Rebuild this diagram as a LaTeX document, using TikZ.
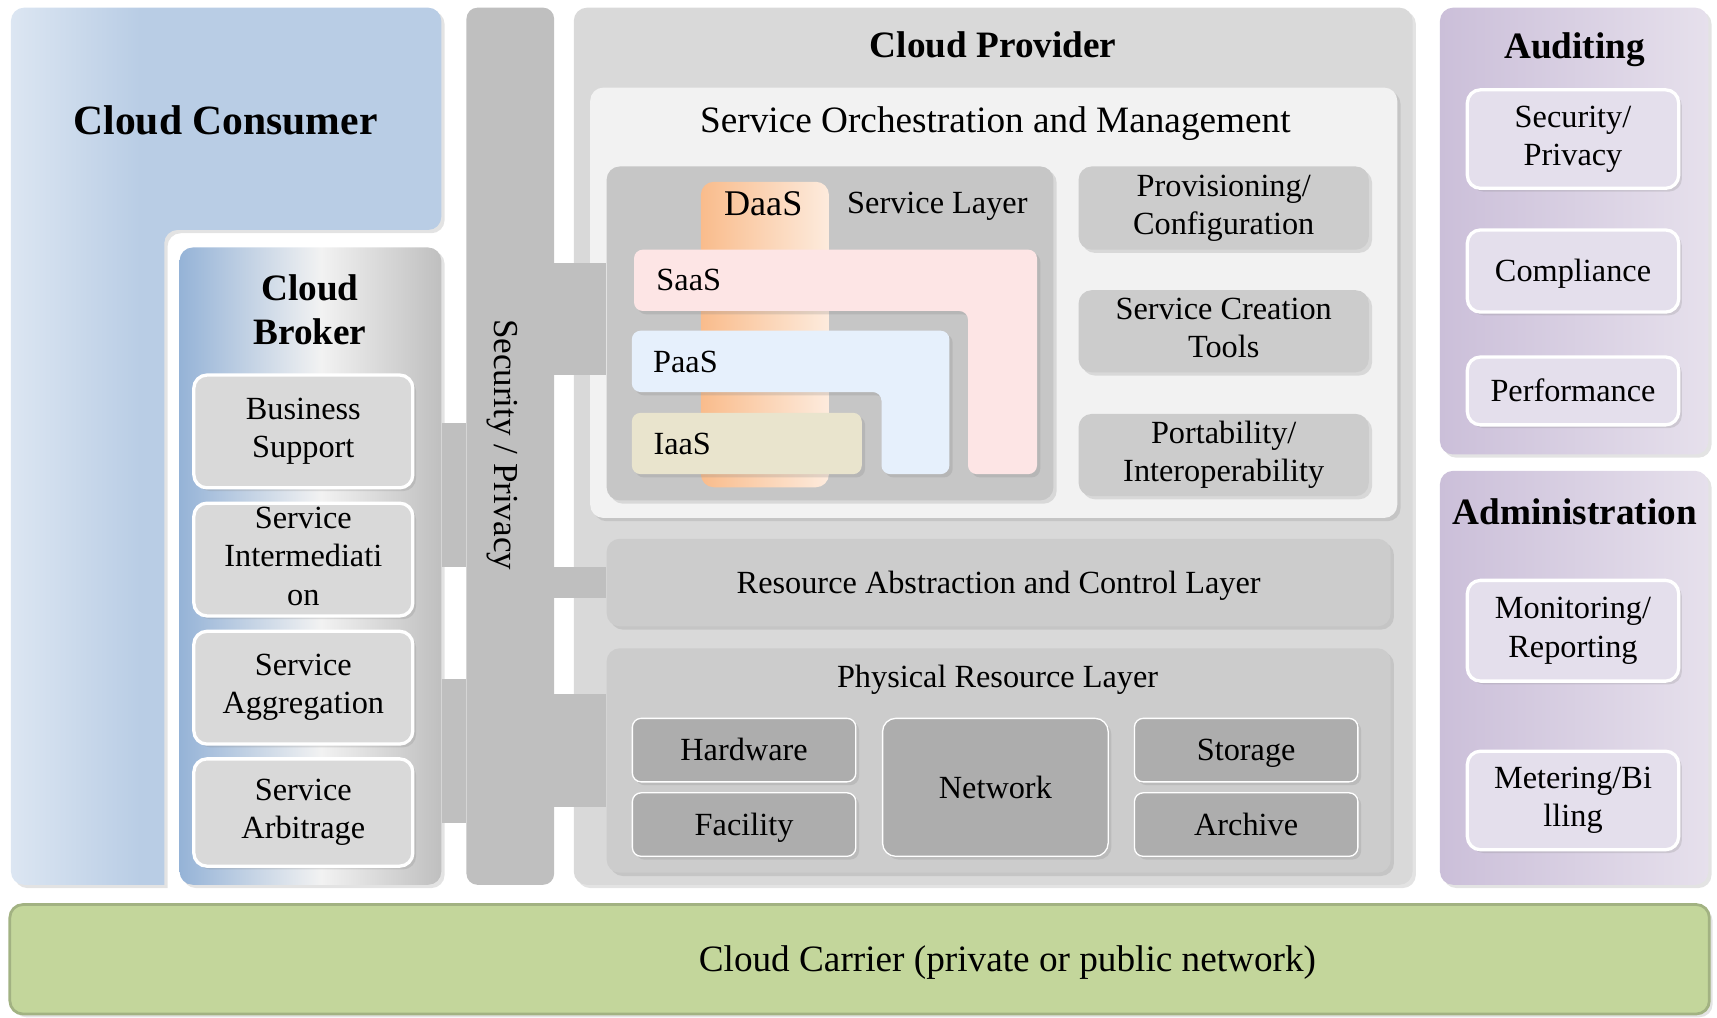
\documentclass[tikz,border=0pt]{standalone}
\usepackage{fontspec}
\setmainfont{Liberation Serif}
\usetikzlibrary{shadows}

\definecolor{consblue}{HTML}{B9CDE5}
\definecolor{conslight}{HTML}{DCE6F2}
\definecolor{brokblue}{HTML}{95B3D7}
\definecolor{broklight}{HTML}{F2F2F2}
\definecolor{brokgray}{HTML}{BFBFBF}
\definecolor{bargray}{HTML}{BFBFBF}
\definecolor{provgray}{HTML}{D9D9D9}
\definecolor{orchgray}{HTML}{F2F2F2}
\definecolor{laygray}{HTML}{CCCCCC}
\definecolor{physgray}{HTML}{ADADAD}
\definecolor{subgray}{HTML}{D9D9D9}
\definecolor{daasdark}{HTML}{F9BC8C}
\definecolor{daaslight}{HTML}{FDEBDD}
\definecolor{saaspink}{HTML}{FDE5E5}
\definecolor{paasblue}{HTML}{E6F0FC}
\definecolor{iaastan}{HTML}{E9E4CD}
\definecolor{purpdark}{HTML}{CBBFD9}
\definecolor{purplight}{HTML}{E6E0EC}
\definecolor{purpbox}{HTML}{E4DFEC}
\definecolor{carrgreen}{HTML}{C3D69B}
\definecolor{carredge}{HTML}{A2B282}

\pgfdeclarehorizontalshading{consshade}{100bp}{color(0bp)=(conslight); color(25bp)=(conslight); color(40bp)=(consblue); color(100bp)=(consblue)}
\pgfdeclarehorizontalshading{brokshade}{100bp}{color(0bp)=(brokblue); color(25bp)=(brokblue); color(52bp)=(broklight); color(75bp)=(brokgray); color(100bp)=(brokgray)}
\pgfdeclarehorizontalshading{daasshade}{100bp}{color(0bp)=(daasdark); color(25bp)=(daasdark); color(75bp)=(daaslight); color(100bp)=(daaslight)}
\pgfdeclarehorizontalshading{purpshade}{100bp}{color(0bp)=(purpdark); color(25bp)=(purpdark); color(75bp)=(purplight); color(100bp)=(purplight)}

\tikzset{
	shad/.style={drop shadow={opacity=0.22, shadow xshift=3pt, shadow yshift=-3pt}},
	txt/.style={font=\fontsize{29.5}{35}\selectfont, align=center, inner sep=0pt},
	boxtxt/.style={txt, execute at begin node={\rule{0pt}{26.3pt}}, execute at end node={\rule[-6.5pt]{0pt}{6.5pt}}},
	head/.style={font=\fontsize{34}{40}\selectfont\bfseries, align=center, inner sep=0pt},
	panel/.style={rectangle, rounded corners=12pt, inner sep=0pt, shad},
	brokbox/.style={boxtxt, rectangle, rounded corners=12pt, fill=subgray, draw=white, line width=3pt, shad, minimum width=200pt, minimum height=103pt},
	orchbox/.style={boxtxt, rectangle, rounded corners=12pt, fill=laygray, shad, minimum width=265pt, minimum height=75pt},
	physbox/.style={boxtxt, rectangle, rounded corners=8pt, fill=physgray, draw=white, line width=1.2pt, shad, minimum width=204pt, minimum height=58pt},
	audbox/.style={boxtxt, rectangle, rounded corners=12pt, fill=purpbox, draw=white, line width=3pt, shad, minimum width=193pt},
	link/.style={fill=bargray}
}

\begin{document}
\begin{tikzpicture}[x=1pt, y=-1pt]
	\useasboundingbox (0,0) rectangle (1568,929);
	
	% consumer and broker
	\shade[shad, shading=consshade, rounded corners=12pt] (10,808) -- (10,7) -- (403,7) -- (403,210) -- (150,210) [sharp corners] -- (150,808) [rounded corners=12pt] -- cycle;
	\node (constitle) at (206,110) [head, font=\fontsize{38}{44}\selectfont\bfseries] {Cloud Consumer};
	
	\node (brok) at (283.5,517) [panel, shade, shading=brokshade, minimum width=239pt, minimum height=582pt] {};
	\node (broktitle) at (283,283) [head] {Cloud\\Broker};
	\node (busi) at (277,394) [brokbox] {Business\\Support};
	\node (inter) at (277,511) [brokbox] {Service\\Intermediati\\on};
	\node (aggr) at (277,628) [brokbox] {Service\\Aggregation};
	\node (arbi) at (277,742) [brokbox, minimum height=98pt] {Service\\Arbitrage};
	
	\node (secbar) at (466,407.5) [rectangle, rounded corners=10pt, fill=bargray, minimum width=80pt, minimum height=801pt] {};
	\node (sectxt) at (459,406) [txt, rotate=-90, font=\fontsize{32}{38}\selectfont] {Security / Privacy};
	\fill[link] (brok.east |- 0,386) rectangle (secbar.west |- 0,518);
	\fill[link] (brok.east |- 0,620) rectangle (secbar.west |- 0,752);
	
	% provider
	\node (prov) at (907,407.5) [panel, fill=provgray, minimum width=766pt, minimum height=801pt] {};
	\node (provtitle) at (907,41) [head] {Cloud Provider};
	\node (orch) at (907.5,276.5) [panel, fill=orchgray, minimum width=737pt, minimum height=393pt] {};
	\node (orchtitle) at (909,113) [txt, font=\fontsize{34}{40}\selectfont] {Service Orchestration and Management};
	
	\node (svclay) at (758,304.5) [panel, fill=laygray!97!black, minimum width=408pt, minimum height=305pt] {};
	\node (svctitle) at (856,188) [txt] {Service Layer};
	\node (daas) at (698.5,305.5) [rectangle, rounded corners=12pt, shade, shading=daasshade, minimum width=117pt, minimum height=279pt] {};
	\node (daastxt) at (697,186) [txt, font=\fontsize{33}{38}\selectfont] {DaaS};
	\fill[saaspink, shad, rounded corners=8pt] (579,228) -- (947,228) -- (947,433) -- (884,433) -- (884,284) -- (579,284) -- cycle;
	\node (saastxt) at (629,256) [txt] {SaaS};
	\fill[paasblue, shad, rounded corners=8pt] (577,302) -- (867,302) -- (867,433) -- (805,433) -- (805,358) -- (577,358) -- cycle;
	\node (paastxt) at (626,331) [txt] {PaaS};
	\node (iaas) at (682,405) [rectangle, rounded corners=8pt, fill=iaastan, shad, minimum width=210pt, minimum height=56pt] {};
	\node (iaastxt) at (623,405) [txt] {IaaS};
	
	\node (provi) at (1117.5,190) [orchbox, minimum height=76pt] {Provisioning/\\Configuration};
	\node (crea) at (1117.5,302.5) [orchbox] {Service Creation\\Tools};
	\node (port) at (1117.5,415.5) [orchbox] {Portability/\\Interoperability};
	
	\node (resab) at (912,532) [panel, fill=laygray, minimum width=716pt, minimum height=80pt, boxtxt] {Resource Abstraction and Control Layer};
	\node (phys) at (912,694.5) [panel, fill=laygray, minimum width=716pt, minimum height=205pt] {};
	\node (phystitle) at (911,621) [txt] {Physical Resource Layer};
	\node (hw) at (679.5,685) [physbox] {Hardware};
	\node (fac) at (679.5,753) [physbox] {Facility};
	\node (net) at (909,719) [physbox, minimum width=206pt, minimum height=126pt, rounded corners=12pt] {Network};
	\node (sto) at (1138,685) [physbox] {Storage};
	\node (arc) at (1138,753) [physbox] {Archive};
	
	\fill[link] (secbar.east |- 0,240) rectangle (svclay.west |- 0,342);
	\fill[link] (secbar.east |- 0,518) rectangle (resab.west |- 0,546);
	\fill[link] (secbar.east |- 0,634) rectangle (phys.west |- 0,737);
	
	% auditing and administration
	\node (aud) at (1437.5,211) [panel, shade, shading=purpshade, minimum width=245pt, minimum height=408pt] {};
	\node (audtitle) at (1438,45) [head] {Auditing};
	\node (secp) at (1436.5,127) [audbox, minimum height=90pt] {Security/\\Privacy};
	\node (comp) at (1436.5,247.5) [audbox, minimum height=75pt] {Compliance};
	\node (perf) at (1436.5,357) [audbox, minimum height=62pt] {Performance};
	
	\node (adm) at (1437.5,619) [panel, shade, shading=purpshade, minimum width=245pt, minimum height=378pt] {};
	\node (admtitle) at (1438,467) [head] {Administration};
	\node (moni) at (1436.5,576) [audbox, minimum height=92pt] {Monitoring/\\Reporting};
	\node (mete) at (1436.5,731) [audbox, minimum height=90pt] {Metering/Bi\\lling};
	
	% carrier
	\node (carr) at (785,876) [panel, fill=carrgreen, draw=carredge, line width=2.5pt, minimum width=1552pt, minimum height=100pt] {};
	\node (carrtxt) at (920,879) [txt, font=\fontsize{34}{40}\selectfont] {Cloud Carrier (private or public network)};
\end{tikzpicture}
\end{document}
